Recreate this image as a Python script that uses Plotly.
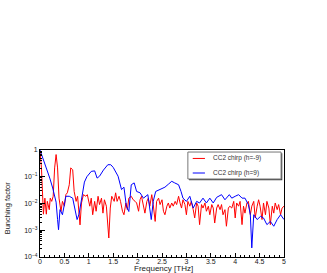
import plotly.graph_objects as go

# Blue: CC2 chirp (h=9) — frequency [THz], log10(bunching factor)
blue_f = [0.0, 0.05, 0.1, 0.15, 0.2, 0.26, 0.3, 0.33, 0.36, 0.38, 0.41, 0.46, 0.53, 0.6, 0.67,
          0.72, 0.76, 0.8, 0.87, 0.91, 0.96, 1.05, 1.12, 1.17, 1.22, 1.3, 1.39, 1.45, 1.5,
          1.6, 1.67, 1.72, 1.77, 1.82, 1.87, 1.93, 1.98, 2.05, 2.12, 2.21, 2.28, 2.32, 2.37,
          2.46, 2.56, 2.63, 2.7, 2.76, 2.84, 2.89, 2.93, 3.0, 3.07, 3.14, 3.21, 3.27, 3.34,
          3.41, 3.48, 3.55, 3.62, 3.72, 3.79, 3.88, 3.93, 4.0, 4.07, 4.14, 4.2, 4.27, 4.31,
          4.34, 4.38, 4.45, 4.52, 4.58, 4.65, 4.72, 4.79, 4.86, 4.93, 5.0]
blue_log = [0.0, -0.25, -0.5, -0.75, -1.05, -1.42, -1.7, -1.95, -2.6, -2.98, -2.23, -2.42, -1.73,
            -1.73, -1.8, -2.2, -2.6, -2.4, -1.55, -1.2, -1.0, -0.8, -0.78, -1.05, -0.98, -0.75,
            -0.55, -0.55, -0.65, -0.98, -1.48, -1.39, -2.1, -2.3, -1.3, -1.23, -1.55, -1.6,
            -1.8, -1.67, -2.6, -1.92, -1.55, -1.48, -1.39, -1.28, -1.17, -1.23, -1.3, -1.55,
            -1.8, -1.92, -1.73, -2.17, -1.92, -1.98, -1.8, -1.98, -1.8, -1.98, -1.77, -1.67,
            -1.86, -1.67, -1.8, -1.73, -1.67, -1.8, -1.8, -2.04, -2.42, -3.66, -2.42, -2.6,
            -2.48, -2.54, -2.79, -2.67, -2.85, -2.6, -2.42, -2.6]

# Red: CC2 chirp (h=-9)
red_f = [0.0, 0.03, 0.07, 0.1, 0.13, 0.15, 0.19, 0.21, 0.24, 0.27, 0.3, 0.33, 0.36, 0.39, 0.43,
         0.46, 0.5, 0.53, 0.56, 0.6, 0.63, 0.67, 0.7, 0.74, 0.77, 0.82, 0.85, 0.89, 0.94, 0.97,
         1.02, 1.05, 1.08, 1.12, 1.15, 1.19, 1.22, 1.26, 1.29, 1.32, 1.36, 1.41, 1.44, 1.47,
         1.52, 1.55, 1.58, 1.62, 1.65, 1.69, 1.72, 1.76, 1.79, 1.82, 1.87, 1.91, 1.95, 1.98,
         2.02, 2.05, 2.08, 2.12, 2.15, 2.19, 2.22, 2.25, 2.29, 2.32, 2.36, 2.39, 2.43, 2.46,
         2.5, 2.53, 2.56, 2.6, 2.63, 2.66, 2.7, 2.73, 2.77, 2.8, 2.84, 2.87, 2.9, 2.93, 2.97,
         3.0, 3.03, 3.07, 3.1, 3.14, 3.17, 3.21, 3.24, 3.27, 3.31, 3.34, 3.38, 3.41, 3.45,
         3.48, 3.52, 3.55, 3.58, 3.62, 3.65, 3.69, 3.72, 3.75, 3.79, 3.82, 3.86, 3.89, 3.93,
         3.97, 4.0, 4.03, 4.07, 4.1, 4.14, 4.17, 4.2, 4.24, 4.27, 4.31, 4.34, 4.38, 4.41,
         4.45, 4.48, 4.51, 4.55, 4.58, 4.62, 4.65, 4.69, 4.72, 4.76, 4.79, 4.82, 4.86, 4.89,
         4.93, 4.96, 5.0]
red_log = [-0.05, -0.67, -2.4, -1.8, -2.4, -1.92, -2.23, -1.8, -1.92, -1.73, -0.67, -0.17, -0.67,
           -1.8, -2.3, -1.92, -2.1, -1.67, -1.6, -1.3, -0.67, -0.74, -1.55, -1.92, -1.73, -2.8,
           -1.98, -1.67, -1.73, -1.67, -2.1, -1.8, -2.42, -1.92, -2.29, -1.73, -2.04, -1.8,
           -2.36, -1.86, -2.1, -3.29, -2.17, -1.73, -1.92, -1.6, -1.92, -1.73, -1.92, -2.29,
           -2.42, -1.98, -2.23, -1.8, -1.73, -1.86, -1.92, -1.98, -2.29, -1.86, -1.73, -2.1,
           -2.36, -1.92, -1.8, -2.1, -1.67, -2.04, -2.67, -1.92, -1.8, -2.04, -1.86, -2.29,
           -2.42, -2.1, -1.98, -2.17, -1.98, -2.1, -1.92, -2.04, -1.73, -1.98, -2.17, -1.86,
           -2.04, -2.42, -1.92, -2.1, -1.92, -2.23, -2.54, -1.98, -2.1, -2.79, -2.04, -2.17,
           -1.98, -2.29, -2.1, -2.42, -2.04, -2.17, -2.73, -2.17, -2.04, -2.23, -2.04, -2.42,
           -2.23, -2.85, -2.17, -2.1, -2.17, -1.92, -2.54, -1.98, -2.1, -1.92, -2.79, -2.1,
           -2.36, -1.98, -1.92, -2.42, -2.1, -1.92, -2.54, -2.1, -1.86, -2.1, -2.6, -1.98,
           -2.42, -1.92, -2.17, -2.79, -2.1, -2.36, -1.98, -2.23, -2.04, -2.42, -2.17, -2.1]

series_names = ["CC2 chirp (h=-9)", "CC2 chirp (h=9)"]
y_tickvals = [1, 0.1, 0.01, 0.001, 0.0001]
y_ticktext = ["1", "10<sup>−1</sup>", "10<sup>−2</sup>", "10<sup>−3</sup>", "10<sup>−4</sup>"]
x_tickvals = [0, 0.5, 1, 1.5, 2, 2.5, 3, 3.5, 4, 4.5, 5]
x_ticktext = ["0", "0.5", "1", "1.5", "2", "2.5", "3", "3.5", "4", "4.5", "5"]

red_y = [10 ** v for v in red_log]
blue_y = [10 ** v for v in blue_log]

minor_y = [m * 10 ** e for e in range(-4, 0) for m in range(2, 10)]
minor_x = [round(i * 0.1, 2) for i in range(0, 51) if i % 5 != 0]

FONT = "Liberation Sans, Arial, sans-serif"
RED = "#ff0000"
BLUE = "#0000ff"

fig = go.Figure()
fig.add_trace(go.Scatter(x=red_f, y=red_y, mode="lines", name=series_names[0],
                         line=dict(color=RED, width=1)))
fig.add_trace(go.Scatter(x=blue_f, y=blue_y, mode="lines", name=series_names[1],
                         line=dict(color=BLUE, width=1)))

# ROOT-style legend box (drawn manually so entries can be compact)
lx0, lx1, ly0, ly1 = 0.606, 0.988, 0.729, 0.981
shapes = [
    dict(type="rect", xref="paper", yref="paper", x0=lx0 + 0.005, x1=lx1 + 0.005,
         y0=ly0 - 0.012, y1=ly1 - 0.012, line=dict(width=0), fillcolor="#444444"),
    dict(type="rect", xref="paper", yref="paper", x0=lx0, x1=lx1, y0=ly0, y1=ly1,
         line=dict(color="#777777", width=1), fillcolor="white"),
]
entry_y = [0.921, 0.785]
entry_col = [RED, BLUE]
annotations = []
for name, yy, col in zip(series_names, entry_y, entry_col):
    shapes.append(dict(type="line", xref="paper", yref="paper", x0=0.626, x1=0.676,
                       y0=yy, y1=yy, line=dict(color=col, width=1)))
    annotations.append(dict(text=name, xref="paper", yref="paper", x=0.70, y=yy,
                            xanchor="left", yanchor="middle", showarrow=False,
                            font=dict(size=6.5, family=FONT, color="#333333")))

annotations.append(dict(text="Frequency [THz]", xref="paper", yref="paper", x=0.505, y=-0.108,
                        xanchor="center", yanchor="middle", showarrow=False,
                        font=dict(size=8, family=FONT, color="#222222")))
annotations.append(dict(text="Bunching factor", xref="paper", yref="paper", x=-0.133, y=0.46,
                        xanchor="center", yanchor="middle", showarrow=False, textangle=-90,
                        font=dict(size=7.5, family=FONT, color="#222222")))

fig.update_layout(
    width=327, height=273,
    margin=dict(l=40, r=43, t=150, b=16, autoexpand=False),
    paper_bgcolor="white", plot_bgcolor="white",
    font=dict(family=FONT, size=7, color="#222222"),
    showlegend=False,
    shapes=shapes, annotations=annotations,
)
fig.update_xaxes(
    range=[0, 5], showgrid=False, zeroline=False,
    showline=True, linecolor="black", linewidth=1, mirror=True,
    tickmode="array", tickvals=x_tickvals, ticktext=x_ticktext,
    ticks="inside", ticklen=4, tickcolor="black",
    minor=dict(tickvals=minor_x, ticks="inside", ticklen=2, tickcolor="black"),
    tickfont=dict(size=7), automargin=False, ticklabelstandoff=-2,
)
fig.update_yaxes(
    type="log", range=[-4, 0], showgrid=False, zeroline=False,
    showline=True, linecolor="black", linewidth=1, mirror=True,
    tickmode="array", tickvals=y_tickvals, ticktext=y_ticktext,
    ticks="inside", ticklen=5, tickcolor="black",
    minor=dict(tickvals=minor_y, ticks="inside", ticklen=2, tickcolor="black"),
    tickfont=dict(size=7), automargin=False,
)

fig.write_html("out.html", config={"displayModeBar": False},
               post_script="document.body.style.margin='0';document.body.style.overflow='hidden';")
